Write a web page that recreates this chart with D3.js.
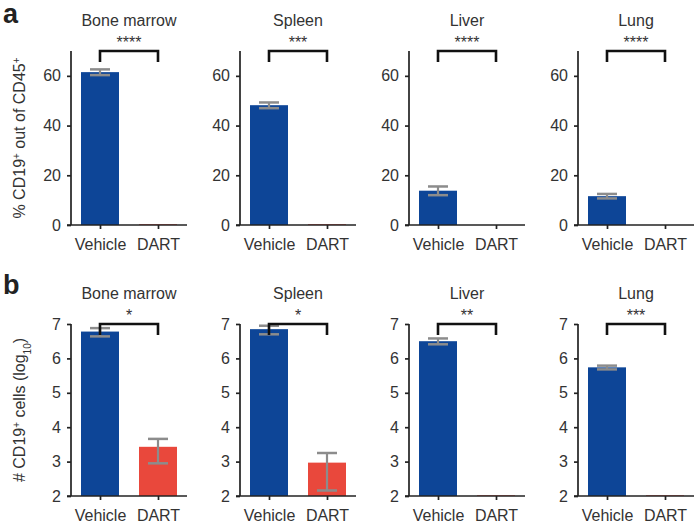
<!DOCTYPE html>
<html>
<head>
<meta charset="utf-8">
<script src="https://cdn.jsdelivr.net/npm/d3@7"></script>
<style>
  body { margin: 0; background: #fff; }
  svg { display: block; font-family: "Liberation Sans", Arial, sans-serif; }
  .axis path, .axis line { stroke: #222; stroke-width: 1.7; }
  .axis text { fill: #333; font-size: 16px; }
  .title { fill: #333; font-size: 16px; }
</style>
</head>
<body>
<div id="chart"></div>
<script>
// ===== Data =====
const tissues = ["Bone marrow", "Spleen", "Liver", "Lung"];
const groups = ["Vehicle", "DART"];

// panel a: % CD19+ of CD45+
const pctVehicle = [61.5, 48.2, 13.8, 11.6];
const pctVehicleLo = [60.3, 47.0, 12.0, 10.7];
const pctVehicleHi = [62.6, 49.3, 15.5, 12.5];
const pctDart = [0.3, 0.3, 0, 0];
const pctTicks = [0, 20, 40, 60];
const pctStars = ["****", "***", "****", "****"];

// panel b: # CD19+ cells (log10)
const logVehicle = [6.78, 6.85, 6.50, 5.74];
const logVehicleLo = [6.64, 6.70, 6.41, 5.68];
const logVehicleHi = [6.88, 6.95, 6.58, 5.79];
const logDart = [3.43, 2.97, 2.02, 2.02];
const logDartLo = [2.95, 2.16, null, null];
const logDartHi = [3.66, 3.25, null, null];
const logTicks = [2, 3, 4, 5, 6, 7];
const logStars = ["*", "*", "**", "***"];

// ===== Config =====
const WIDTH = 700, HEIGHT = 529;
const BLUE = "#0d4597", RED = "#e9483c", ERR = "#8c8c8c";
const PW = 116;        // x extent of each subplot
const BAR_W = 38;
const CAP_W = 20;

const svg = d3.select("#chart").append("svg")
  .attr("width", WIDTH).attr("height", HEIGHT);

// subplot origins (y axis positions)
const xPanel = d3.scalePoint().domain(tissues).range([71, 578]);
const xGroup = d3.scalePoint().domain(groups).range([0, PW]).padding(0.5);

const panels = [
  { letter: "a", top: 51, bottom: 225, domain: [0, 70], ticks: pctTicks,
    vehicle: pctVehicle, vLo: pctVehicleLo, vHi: pctVehicleHi,
    dart: pctDart, dLo: [null,null,null,null], dHi: [null,null,null,null],
    stars: pctStars, letterY: 23 },
  { letter: "b", top: 324, bottom: 496, domain: [2, 7], ticks: logTicks,
    vehicle: logVehicle, vLo: logVehicleLo, vHi: logVehicleHi,
    dart: logDart, dLo: logDartLo, dHi: logDartHi,
    stars: logStars, letterY: 294 }
];

panels.forEach(p => {
  const y = d3.scaleLinear().domain(p.domain).range([p.bottom, p.top]);

  svg.append("text").attr("x", 3).attr("y", p.letterY)
    .attr("font-size", 27).attr("font-weight", "bold").attr("fill", "#222")
    .text(p.letter);

  tissues.forEach((t, i) => {
    const g = svg.append("g").attr("transform", `translate(${xPanel(t)},0)`);
    const rows = [
      { grp: "Vehicle", v: p.vehicle[i], lo: p.vLo[i], hi: p.vHi[i], c: BLUE },
      { grp: "DART", v: p.dart[i], lo: p.dLo[i], hi: p.dHi[i], c: RED }
    ];

    g.selectAll("rect.bar").data(rows).join("rect").attr("class", "bar")
      .attr("x", d => xGroup(d.grp) - BAR_W / 2)
      .attr("width", BAR_W)
      .attr("y", d => y(d.v))
      .attr("height", d => y(p.domain[0]) - y(d.v))
      .attr("fill", d => d.c);

    // error bars
    const eb = rows.filter(d => d.lo != null);
    g.selectAll("line.err").data(eb).join("line").attr("class", "err")
      .attr("x1", d => xGroup(d.grp)).attr("x2", d => xGroup(d.grp))
      .attr("y1", d => y(d.lo)).attr("y2", d => y(d.hi))
      .attr("stroke", ERR).attr("stroke-width", 2.2);
    ["lo", "hi"].forEach(k => {
      g.selectAll("line.cap-" + k).data(eb).join("line").attr("class", "cap-" + k)
        .attr("x1", d => xGroup(d.grp) - CAP_W / 2).attr("x2", d => xGroup(d.grp) + CAP_W / 2)
        .attr("y1", d => y(d[k])).attr("y2", d => y(d[k]))
        .attr("stroke", ERR).attr("stroke-width", 2.5);
    });

    // axes
    g.append("g").attr("class", "axis")
      .call(d3.axisLeft(y).tickValues(p.ticks).tickFormat(d3.format("d"))
        .tickSize(4).tickPadding(6).tickSizeOuter(0))
      .call(a => a.select(".domain").attr("d", `M0,${p.bottom}V${p.top}`));
    g.append("g").attr("class", "axis")
      .attr("transform", `translate(0,${p.bottom})`)
      .call(d3.axisBottom(xGroup).tickSize(4).tickPadding(10).tickSizeOuter(0))
      .call(a => a.select(".domain").attr("d", `M-4,0H${PW}`));
    g.selectAll(".axis text").attr("font-family", null).attr("font-size", null);

    // significance bracket
    const x1 = xGroup("Vehicle"), x2 = xGroup("DART"), yt = p.top;
    g.append("path")
      .attr("d", `M${x1},${yt + 11}V${yt}H${x2}V${yt + 11}`)
      .attr("fill", "none").attr("stroke", "#111").attr("stroke-width", 2.6);
    g.append("text").attr("class", "title")
      .attr("x", (x1 + x2) / 2).attr("y", yt - 3).attr("text-anchor", "middle")
      .attr("font-size", 14).text(p.stars[i]);

    g.append("text").attr("class", "title")
      .attr("x", (x1 + x2) / 2).attr("y", yt - 25).attr("text-anchor", "middle")
      .text(t);
  });
});

// y axis labels
const yl1 = svg.append("text").attr("class", "title")
  .attr("transform", `translate(25,${(51 + 225) / 2}) rotate(-90)`)
  .attr("text-anchor", "middle");
yl1.append("tspan").text("% CD19");
yl1.append("tspan").attr("baseline-shift", "super").attr("font-size", 10).text("+");
yl1.append("tspan").text(" out of CD45");
yl1.append("tspan").attr("baseline-shift", "super").attr("font-size", 10).text("+");

const yl2 = svg.append("text").attr("class", "title")
  .attr("transform", `translate(25,${(324 + 496) / 2}) rotate(-90)`)
  .attr("text-anchor", "middle");
yl2.append("tspan").text("# CD19");
yl2.append("tspan").attr("baseline-shift", "super").attr("font-size", 10).text("+");
yl2.append("tspan").text(" cells (log");
yl2.append("tspan").attr("baseline-shift", "sub").attr("font-size", 10).text("10");
yl2.append("tspan").text(")");
</script>
</body>
</html>
